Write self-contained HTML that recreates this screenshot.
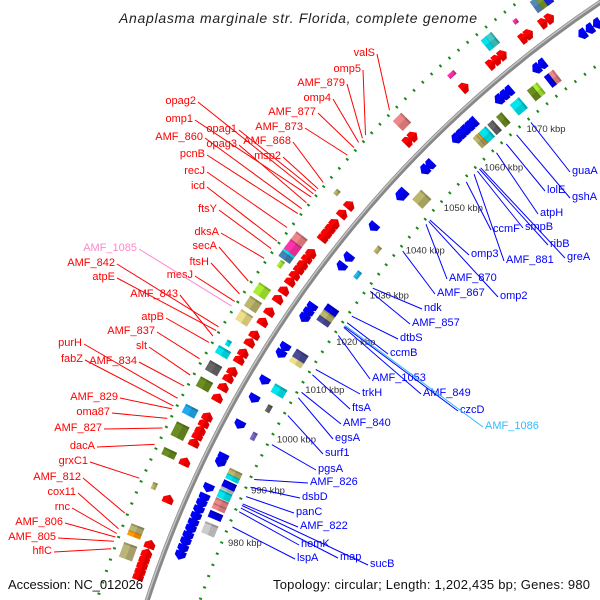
<!DOCTYPE html>
<html><head><meta charset="utf-8"><style>
html,body{margin:0;padding:0;background:#fff;width:600px;height:600px;overflow:hidden;}
svg{display:block;font-family:"Liberation Sans",sans-serif;overflow:hidden;}
</style></head><body>
<svg id="map" width="600" height="600" viewBox="0 0 600 600" xmlns="http://www.w3.org/2000/svg">
<rect width="600" height="600" fill="#fff"/>
<g id="rings"></g>
<g id="features"></g>
<g id="ticks"></g>
<g id="labels"></g>
<text x="298" y="23" text-anchor="middle" font-style="italic" font-size="14" fill="#222" textLength="358">Anaplasma marginale str. Florida, complete genome</text>
<text x="8" y="589" font-size="13" fill="#111" textLength="135">Accession: NC_012026</text>
<text x="273" y="589" font-size="13" fill="#111" textLength="317">Topology: circular; Length: 1,202,435 bp; Genes: 980</text>
</svg>
<script>
// ---- data ----
const tickKbp = [980,990,1000,1010,1020,1030,1040,1050,1060,1070];
const fwdGeneKbp = [969.5,970.5,971.5,972.5,973.5,975,983,989.7,993.2,994.5,995.5,996.8,998,1001.5,1003.5,1005.2,1006.5,1008.7,1010,1012,1013.5,1016,1018,1020.5,1022.2,1024,1025.3,1026.5,1027.5,1028.7,1029.8,1033,1034,1035,1036,1038,1039.8,1054,1055.2,1066.8,1072.6,1073.8,1075,1079.4,1080.5,1083.5,1084.8];
const revGeneKbp = [975,976.2,977.4,978.5,979.7,980.8,982,983.2,984.4,985.5,987.3,992,993,999.2,1004.2,1007.7,1013,1014.3,1020.2,1021.3,1022.4,1030.9,1032.8,1039.5,1046.3,1047,1052.4,1053.6,1059.8,1060.8,1061.8,1062.8,1063.8,1069.6,1070.7,1071.8,1077.8,1079,1087.5,1089,1090.5];
const outerBoxKbp = [972.6,975.6,976.5,984,989.8,993.8,997.4,1002.3,1005.3,1008.3,1010,1014.8,1017.4,1020,1025.3,1026.8,1027.8,1028.6,1030.3,1040,1055.5,1066.6,1074.3,1075.3,1080,1084.3,1085.3,1086.3];
const outerBoxLen = [2.6,1,1.2,1.2,1.3,2.5,1.6,1.8,1.8,1.4,1,2,2,2,1.3,1.3,1.2,2,1.6,1,2,1.4,1.3,1.2,0.8,1.3,1.3,1.3];
const outerBoxColor = ['#bcb57a','#ff9a00','#bcb57a','#bdb76b','#6b8e23','#6b8e23','#22aaee','#6b8e23','#666666','#00e5ee','#00e5ee','#eee08a','#bdb76b','#aaee33','#aaee33','#4682b4','#00e5ee','#ff33aa','#ee8888','#bdb76b','#ee8888','#ff33aa','#00e5ee','#44cccc','#ff33aa','#5588bb','#7a9a2a','#2222ee'];
const outerBoxThin = [0,0,0,1,0,0,0,0,0,0,1,0,0,0,1,0,0,0,0,1,0,1,0,0,1,0,0,0];
const innerBoxKbp = [981,983.5,985,986,987.3,988.5,989.2,990.6,991.5,998.6,1004,1007.5,1013.5,1014.5,1021.8,1022.8,1024,1031.5,1037,1048.5,1062.5,1063.3,1064.2,1066,1068,1071.5,1075,1076,1078.5,1079.5];
const innerBoxLen = [2,1.2,1,1,1.4,0.8,1.2,1,1,1.4,1.3,1.6,1.5,1.5,1.2,1.2,1.2,1.4,1.3,2.2,1,0.4,1.6,1.2,1.2,2,1.4,1,1,1];
const innerBoxColor = ['#cccccc','#0000ee','#ee8888','#ee8888','#00e5ee','#bbbbbb','#0000ee','#00e5ee','#bdb76b','#7b68c8','#666666','#00e5ee','#eee08a','#4a4a99','#4a4a99','#bdb76b','#0000ee','#22bbee','#bdb76b','#bdb76b','#bdb76b','#ff8800','#00e5ee','#666666','#6b8e23','#00e5ee','#6b8e23','#aaee33','#0000ee','#ee8888'];
const innerBoxThin = [0,0,0,0,0,0,0,0,0,1,1,0,0,0,0,0,0,1,1,0,0,0,0,0,0,0,0,0,0,0];
const fwdLabelNames = ['valS','omp5','AMF_879','omp4','AMF_877','AMF_873','AMF_868','msp2','opag2','omp1','opag1','opag3','AMF_860','pcnB','recJ','icd','ftsY','dksA','secA','ftsH','mesJ','AMF_1085','AMF_842','atpE','AMF_843','atpB','AMF_837','slt','purH','fabZ','AMF_834','AMF_829','oma87','AMF_827','dacA','grxC1','AMF_812','cox11','rnc','AMF_806','AMF_805','hflC'];
const fwdLabelKbp = [1055.4,1049.9,1049.2,1048.3,1047.2,1045.6,1039.8,1038.5,1037.4,1036.8,1038.0,1035.6,1034.4,1033.4,1030.6,1027.9,1026.4,1024.5,1020.1,1017.6,1016.2,1015.3,1011.4,1010.7,1009.7,1008.5,1005.5,1002.5,998.3,996.9,1000.5,996.4,994.7,993.0,990.1,984.2,978.2,975.5,974.7,974.1,973.4,972.1];
const revLabelNames = ['guaA','gshA','lolE','atpH','smpB','ribB','greA','ccmF','AMF_881','omp3','AMF_870','AMF_867','omp2','ndk','AMF_857','dtbS','ccmB','AMF_1053','AMF_849','czcD','AMF_1086','trkH','ftsA','AMF_840','egsA','surf1','pgsA','AMF_826','dsbD','panC','AMF_822','hemK','map','sucB','lspA'];
const revLabelKbp = [1071.3,1068.0,1065.6,1063.3,1058.7,1059.2,1059.5,1056.0,1057.9,1046.8,1045.8,1039.6,1046.5,1031.3,1030.6,1025.2,1023.8,1021.1,1022.8,1023.0,1023.2,1014.0,1012.9,1009.3,1008.2,1004.6,998.8,992.0,990.5,988.7,987.3,985.8,986.5,987.0,982.9];

// ---- layout (label placement) ----
const fwdLabelPos = [[375,52],[361,68],[345,82],[331,97],[316,111],[303,126],[291,140],[281,155],[196,100],[193,118],[237,128],[237,143],[203,136],[205,153],[205,170],[205,185],[217,208],[219,231],[217,245],[209,261],[193,274],[137,247],[115,262],[115,276],[178,293],[164,316],[155,330],[147,345],[82,342],[83,358],[137,360],[118,396],[110,411],[102,427],[95,445],[88,460],[81,476],[76,491],[70,506],[63,521],[56,536],[52,550]];
const revLabelPos = [[572,170],[572,196],[547,189],[540,212],[525,226],[550,243],[567,256],[493,228],[506,259],[471,253],[449,277],[437,292],[500,295],[424,307],[412,322],[400,337],[390,352],[372,377],[423,392],[460,409],[485,425],[362,392],[352,407],[343,422],[335,437],[325,452],[318,468],[310,481],[302,496],[296,511],[300,525],[301,543],[340,556],[370,563],[297,557]];

const NS='http://www.w3.org/2000/svg';
const CX=1242, CY=959, RB=1152;
function ang(k){return (22.3+(k-980)*0.2994)*Math.PI/180;}
function pt(k,r){const a=ang(k);return [CX-r*Math.cos(a), CY-r*Math.sin(a)];}
function rot(k){return 22.3+(k-980)*0.2994-90;}
function mk(tag,attrs,parent){const e=document.createElementNS(NS,tag);for(const a in attrs)e.setAttribute(a,attrs[a]);parent.appendChild(e);return e;}
const PXK = RB*0.2994*Math.PI/180;

const rings=document.getElementById('rings');
let c=mk('circle',{cx:CX,cy:CY,r:1200,fill:'none',stroke:'#1a8a1a','stroke-width':3,'stroke-dasharray':'2 10'},rings);


c=mk('circle',{cx:CX,cy:CY,r:1102,fill:'none',stroke:'#1a8a1a','stroke-width':3,'stroke-dasharray':'2 10'},rings);


c=mk('circle',{cx:CX,cy:CY,r:RB,fill:'none',stroke:'#888888','stroke-width':5},rings);


c=mk('circle',{cx:CX,cy:CY,r:RB+1,fill:'none',stroke:'#c4c4c4','stroke-width':1.5},rings);



const feats=document.getElementById('features');
function box(k,len,color,thin,r,name){
  const [x,y]=pt(k,r);const w=Math.max(len*PXK,3);const h=thin?5:14;
  const g=mk('g',{transform:`translate(${x.toFixed(1)},${y.toFixed(1)}) rotate(${rot(k).toFixed(2)})`},feats);
  
  
  mk('rect',{x:-w/2,y:-h/2,width:w,height:h,fill:color},g);
  mk('rect',{x:-w/2,y:0,width:w,height:h/2,fill:'#000','fill-opacity':0.12},g);
  mk('rect',{x:w/2-2,y:-h/2,width:2,height:h,fill:'#000','fill-opacity':0.18},g);
}
function arrow(k,fwd,r,color,name){
  const [x,y]=pt(k,r);const L=9,h=11;
  const s=fwd?1:-1;
  const p=[[-L/2,-h/2],[L/2-4,-h/2],[L/2,0],[L/2-4,h/2],[-L/2,h/2]].map(q=>[q[0]*s,q[1]]);
  const g=mk('g',{transform:`translate(${x.toFixed(1)},${y.toFixed(1)}) rotate(${rot(k).toFixed(2)})`},feats);
  
  
  mk('polygon',{points:p.map(q=>q.join(',')).join(' '),fill:color},g);
  mk('polygon',{points:[[p[0][0],0],[p[2][0],0],[p[3][0],p[3][1]],[p[4][0],p[4][1]]].map(q=>q.join(',')).join(' '),fill:'#000','fill-opacity':0.15},g);
}
fwdGeneKbp.forEach(k=>arrow(k,true,1168,'#ff0000','forward-gene'));
revGeneKbp.forEach(k=>arrow(k,false,1136,'#0000ff','reverse-gene'));
outerBoxKbp.forEach((k,i)=>box(k,outerBoxLen[i],outerBoxColor[i],outerBoxThin[i],1186,'forward-cog-box'));
innerBoxKbp.forEach((k,i)=>box(k,innerBoxLen[i],innerBoxColor[i],innerBoxThin[i],1118,'reverse-cog-box'));

const ticks=document.getElementById('ticks');
tickKbp.forEach(k=>{
  const [x,y]=pt(k,1096);
  const t=mk('text',{x:x.toFixed(1),y:(y+3).toFixed(1),'font-size':9.5,fill:'#333'},ticks);
  
  
  t.textContent=k+' kbp';
});

const labels=document.getElementById('labels');
fwdLabelNames.forEach((n,i)=>{
  const [lx,ly]=fwdLabelPos[i];const [ex,ey]=pt(fwdLabelKbp[i],1203);
  const col=n==='AMF_1085'?'#ff88cc':'#ff0000';
  const l=mk('line',{x1:lx+2,y1:ly+2,x2:ex.toFixed(1),y2:ey.toFixed(1),stroke:col,'stroke-width':1},labels);
  
  
  const t=mk('text',{x:lx,y:ly+4,'text-anchor':'end','font-size':11,fill:col},labels);
  
  
  t.textContent=n;
});
revLabelNames.forEach((n,i)=>{
  const [lx,ly]=revLabelPos[i];const [ex,ey]=pt(revLabelKbp[i],1098);
  const col=n==='AMF_1086'?'#33bbff':'#0000ff';
  const l=mk('line',{x1:lx-2,y1:ly+2,x2:ex.toFixed(1),y2:ey.toFixed(1),stroke:col,'stroke-width':1},labels);
  
  
  const t=mk('text',{x:lx,y:ly+4,'font-size':11,fill:col},labels);
  
  
  t.textContent=n;
});
</script>
</body></html>
